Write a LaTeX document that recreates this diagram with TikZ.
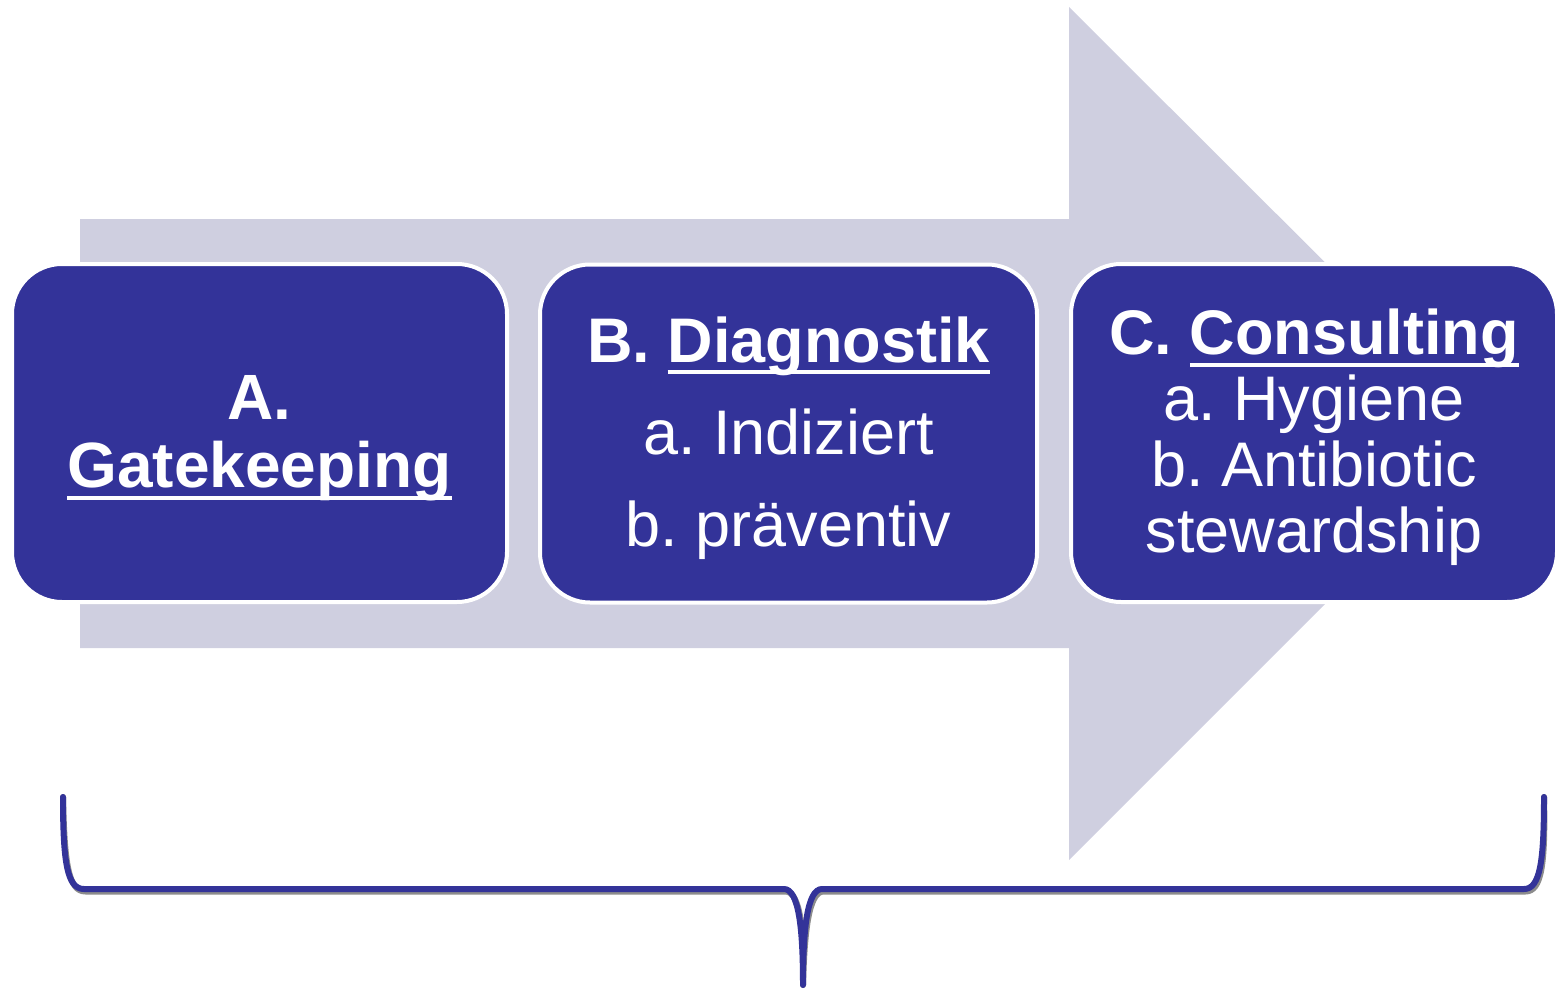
\documentclass[tikz,border=0pt]{standalone}
\usepackage{fontspec}
\setmainfont{Liberation Sans}
\frenchspacing
\usetikzlibrary{positioning}

\definecolor{stageblue}{RGB}{51,51,153}
\definecolor{flowgray}{RGB}{207,207,224}

% underlined heading word
\newsavebox{\ulbox}
\newcommand{\uln}[1]{\sbox{\ulbox}{#1}\rlap{\rule[-12pt]{\wd\ulbox}{4pt}}\usebox{\ulbox}}
% pushes the text block down a little
\newcommand{\topstrut}{\rule{0pt}{55pt}}

\tikzstyle{stage} = [rectangle, rounded corners=50pt, fill=stageblue, draw=white, line width=4pt, text=white, align=center, inner sep=0pt, minimum height=338pt]
\tikzstyle{brace} = [draw=stageblue, line width=6pt, line cap=round, line join=round]
\tikzstyle{braceshadow} = [draw=black!45, line width=6pt, line cap=round, line join=round]

\begin{document}
\begin{tikzpicture}[x=1pt, y=-1pt]
  \useasboundingbox (0,0) rectangle (1555,990);

  % big background arrow
  \fill[flowgray] (80,219) -- (1069,219) -- (1069,7) -- (1496,433)
    -- (1069,860) -- (1069,648) -- (80,648) -- cycle;

  % the three stages
  \node (gate) [stage, minimum width=495pt, font=\fontsize{64}{68}\selectfont] at (259.5,433)
    {\topstrut\textbf{A.}\\ \textbf{\uln{Gatekeeping}}};
  \node (diag) [stage, minimum width=497pt, font=\fontsize{63}{92}\selectfont] at (788.5,433.5)
    {\topstrut\textbf{B. \uln{Diagnostik}}\\ a. Indiziert\\ b. pr\"aventiv};
  \node (cons) [stage, minimum width=486pt, font=\fontsize{63}{66}\selectfont] at (1314,433)
    {\topstrut\textbf{C. \uln{Consulting}}\\ a. Hygiene\\ b. Antibiotic\\ stewardship};

  % brace under everything
  \coordinate (bl) at (63,797);
  \coordinate (br) at (1544,797);
  \coordinate (bm) at (803,985);
  \begin{scope}[shift={(1.5,2.5)}]
    \path[braceshadow] (bl) .. controls (63,862) and (67,889) .. (84,889) -- (784,889)
      .. controls (799,889) and (803,930) .. (bm)
      .. controls (803,930) and (807,889) .. (822,889) -- (1524,889)
      .. controls (1540,889) and (1544,862) .. (br);
  \end{scope}
  \path[brace] (bl) .. controls (63,862) and (67,889) .. (84,889) -- (784,889)
    .. controls (799,889) and (803,930) .. (bm)
    .. controls (803,930) and (807,889) .. (822,889) -- (1524,889)
    .. controls (1540,889) and (1544,862) .. (br);
\end{tikzpicture}
\end{document}
